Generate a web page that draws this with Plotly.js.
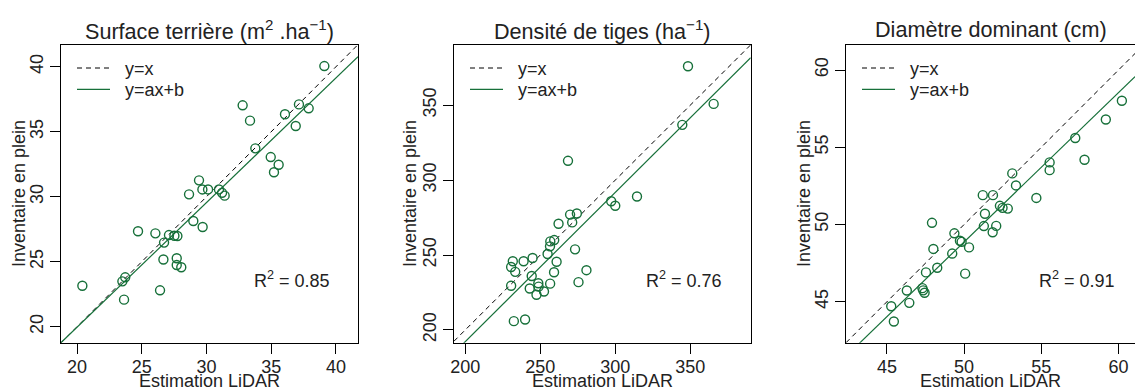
<!DOCTYPE html>
<html>
<head>
<meta charset="utf-8">
<script src="https://cdn.plot.ly/plotly-3.0.1.min.js"></script>
<style>html,body{margin:0;padding:0;background:#fff;}#chart{width:1135px;height:389px;}</style>
</head>
<body>
<div id="chart"></div>
<script>
// ---------- DATA ----------
const panelTitles = [
  "Surface terrière (m<sup>2</sup> .ha<sup>−1</sup>)",
  "Densité de tiges (ha<sup>−1</sup>)",
  "Diamètre dominant (cm)"
];
const xAxisLabel = "Estimation LiDAR";
const yAxisLabel = "Inventaire en plein";
const legendLabels = ["y=x", "y=ax+b"];

const surfLidar = [39.1, 32.79, 33.36, 36.06, 37.14, 37.89, 36.89, 33.77, 34.96, 35.57, 35.21, 29.42, 29.68, 30.12, 28.65, 30.96, 31.2, 31.4, 28.98, 29.7, 24.71, 26.05, 27.1, 27.52, 27.75, 26.72, 26.67, 27.7, 27.7, 28.05, 23.72, 23.5, 23.63, 20.41, 26.41];
const surfInv   = [40.05, 37.03, 35.85, 36.34, 37.1, 36.8, 35.44, 33.72, 33.05, 32.46, 31.88, 31.26, 30.56, 30.56, 30.18, 30.56, 30.3, 30.08, 28.13, 27.67, 27.34, 27.18, 27.05, 27.0, 26.98, 26.47, 25.17, 25.27, 24.75, 24.57, 23.8, 23.49, 22.08, 23.15, 22.8];

const densLidar = [348.5, 365.6, 344.7, 268.5, 314.5, 297.3, 300.0, 269.9, 274.4, 271.3, 262.2, 256.7, 259.3, 256.5, 254.9, 273.2, 260.9, 259.2, 280.8, 275.5, 256.6, 248.7, 248.9, 247.5, 243.0, 252.5, 244.3, 231.7, 230.6, 233.3, 238.9, 244.9, 230.6, 232.4, 239.9];
const densInv   = [376, 350.9, 336.9, 312.9, 289.1, 285.9, 282.9, 277, 277.7, 271.8, 270.9, 259.1, 260, 255.8, 250.7, 253.8, 245.5, 238.5, 239.9, 231.9, 230.9, 231.2, 228.9, 223.5, 227.7, 225.7, 236, 245.9, 242, 238.8, 245.9, 248, 229.5, 205.9, 207];

const diamLidar = [60.22, 59.18, 57.2, 57.8, 55.54, 55.54, 53.12, 53.36, 51.21, 51.87, 54.68, 52.32, 52.49, 52.83, 51.35, 47.92, 51.28, 52.08, 51.85, 49.37, 49.73, 49.84, 50.32, 48.01, 49.23, 48.26, 47.53, 50.07, 46.29, 47.3, 47.35, 47.44, 46.45, 45.28, 45.45];
const diamInv   = [58.01, 56.8, 55.6, 54.19, 54.02, 53.52, 53.31, 52.53, 51.9, 51.9, 51.72, 51.21, 51.08, 51.03, 50.7, 50.11, 49.9, 49.91, 49.5, 49.43, 48.95, 48.88, 48.52, 48.42, 48.12, 47.2, 46.9, 46.82, 45.73, 45.88, 45.74, 45.58, 44.93, 44.71, 43.72];

const fitSlope     = [0.959, 0.996, 0.967];
const fitIntercept = [0.78, -7.0, 0.52];
const r2Values     = ["0.85", "0.76", "0.91"];

const xTicks = [[20, 25, 30, 35, 40], [200, 250, 300, 350], [45, 50, 55, 60]];
const yTicks = [[20, 25, 30, 35, 40], [200, 250, 300, 350], [45, 50, 55, 60]];

// ---------- LAYOUT / STYLE ----------
const W = 1135, H = 389;
const px = v => v / W;
const py = v => 1 - v / H;
const GREEN = "#17703a";
const FONT = "Liberation Sans, Arial, Helvetica, sans-serif";
const TXT = "#222";

const xs = [surfLidar, densLidar, diamLidar];
const ys = [surfInv, densInv, diamInv];

// plot boxes in pixels: [left, right]
const boxL = [61, 454, 846];
const boxR = [358, 750.7, 1135];
const boxTop = 45, boxBot = 342.7;
const xRanges = [[18.76, 41.7], [192.5, 390.3], [42.35, 61.07]];
const yRanges = [[18.77, 41.67], [191.5, 390.2], [42.35, 61.62]];
const r2Pos = [[36.64, 23.67], [346.1, 233.5], [57.3, 46.46]];
const yTitleX = [19, 410, 804];

const traces = [];
const layout = {
  width: W, height: H,
  margin: {l: 0, r: 0, t: 0, b: 0},
  paper_bgcolor: "#fff", plot_bgcolor: "#fff",
  showlegend: false,
  font: {family: FONT, size: 18, color: TXT},
  shapes: [], annotations: []
};

for (let i = 0; i < 3; i++) {
  const n = i === 0 ? "" : String(i + 1);
  const xa = "x" + n, ya = "y" + n;
  const [x0, x1] = xRanges[i];

  // y = x
  traces.push({x: [x0, x1], y: [x0, x1], xaxis: xa, yaxis: ya, mode: "lines",
    line: {color: "#000", width: 1, dash: "5px,4px"}, hoverinfo: "skip", name: legendLabels[0]});
  // regression
  traces.push({x: [x0, x1], y: [fitSlope[i] * x0 + fitIntercept[i], fitSlope[i] * x1 + fitIntercept[i]],
    xaxis: xa, yaxis: ya, mode: "lines", line: {color: GREEN, width: 1.2}, hoverinfo: "skip", name: legendLabels[1]});
  // points
  traces.push({x: xs[i], y: ys[i], xaxis: xa, yaxis: ya, mode: "markers",
    marker: {symbol: "circle-open", size: 9, color: GREEN, line: {width: 1.4, color: GREEN}}, name: "obs"});

  const common = {
    showgrid: false, zeroline: false, showline: true, linecolor: "#000", linewidth: 1,
    ticks: "outside", ticklen: 10, tickwidth: 1, tickcolor: "#000",
    tickfont: {family: FONT, size: 18, color: TXT}, tickmode: "array", fixedrange: true
  };
  layout["xaxis" + n] = Object.assign({}, common, {
    domain: [px(boxL[i]), Math.min(1, px(boxR[i]))], range: xRanges[i], anchor: ya,
    tickvals: xTicks[i], mirror: true, ticklabelstandoff: -2
  });
  layout["yaxis" + n] = Object.assign({}, common, {
    domain: [py(boxBot), py(boxTop)], range: yRanges[i], anchor: xa,
    tickvals: yTicks[i], tickangle: -90, mirror: i < 2
  });

  const boxCx = (boxL[i] + boxR[i]) / 2;
  // panel title
  layout.annotations.push({text: panelTitles[i], xref: "paper", yref: "paper", x: px(boxCx), y: py(30),
    xanchor: "center", yanchor: "middle", showarrow: false, font: {family: FONT, size: 21.6, color: TXT}});
  // axis titles
  layout.annotations.push({text: xAxisLabel, xref: "paper", yref: "paper", x: px(boxCx), y: py(381),
    xanchor: "center", yanchor: "middle", showarrow: false, font: {family: FONT, size: 18, color: TXT}});
  layout.annotations.push({text: yAxisLabel, xref: "paper", yref: "paper", x: px(yTitleX[i]), y: py(194),
    xanchor: "center", yanchor: "middle", textangle: -90, showarrow: false, font: {family: FONT, size: 18, color: TXT}});
  // R2
  layout.annotations.push({text: "R<sup>2</sup> = " + r2Values[i], xref: xa, yref: ya,
    x: r2Pos[i][0], y: r2Pos[i][1], xanchor: "center", yanchor: "middle", showarrow: false,
    font: {family: FONT, size: 18, color: TXT}});
  // legend
  const lx0 = boxL[i] + 16, lx1 = boxL[i] + 49, tx = boxL[i] + 62;
  const rows = [68, 89.3];
  layout.shapes.push({type: "line", xref: "paper", yref: "paper", x0: px(lx0), x1: px(lx1), y0: py(rows[0]), y1: py(rows[0]),
    line: {color: "#000", width: 1, dash: "5px,4px"}});
  layout.shapes.push({type: "line", xref: "paper", yref: "paper", x0: px(lx0), x1: px(lx1), y0: py(rows[1]), y1: py(rows[1]),
    line: {color: GREEN, width: 1.2}});
  for (let k = 0; k < 2; k++) {
    layout.annotations.push({text: legendLabels[k], xref: "paper", yref: "paper", x: px(tx), y: py(rows[k] + 1),
      xanchor: "left", yanchor: "middle", showarrow: false, font: {family: FONT, size: 18, color: TXT}});
  }
}

Plotly.newPlot("chart", traces, layout, {staticPlot: true, displayModeBar: false});
</script>
</body>
</html>
